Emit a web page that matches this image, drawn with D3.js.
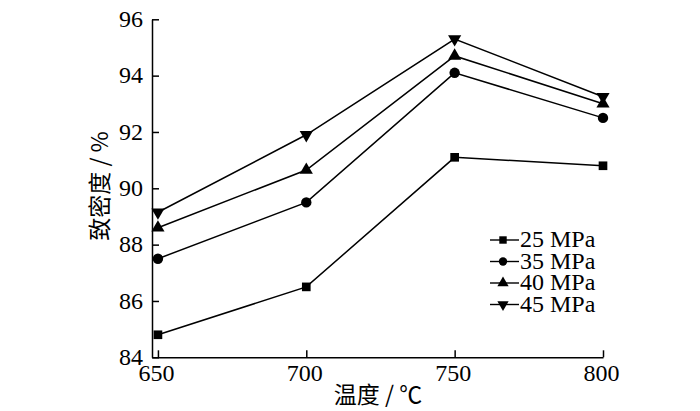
<!DOCTYPE html>
<html>
<head>
<meta charset="utf-8">
<script src="https://cdn.jsdelivr.net/npm/d3@7"></script>
<style>
  body { margin: 0; background: #fff; }
  text { font-family: "Liberation Serif", "Times New Roman", serif; fill: #000; }
</style>
</head>
<body>
<svg width="700" height="411"></svg>
<script>
// temperatures (x) and density per pressure
var temps = [650, 700, 750, 800];
var seriesNames = ["25 MPa", "35 MPa", "40 MPa", "45 MPa"];
var d25 = [84.8, 86.5, 91.1, 90.8];
var d35 = [87.5, 89.5, 94.1, 92.5];
var d40 = [88.6, 90.65, 94.7, 93.0];
var d45 = [89.15, 91.9, 95.3, 93.25];
var xTicks = [650, 700, 750, 800];
var yTicks = [84, 86, 88, 90, 92, 94, 96];

var allSeries = [d25, d35, d40, d45];
var symbols = [d3.symbolSquare, d3.symbolCircle, d3.symbolTriangle, d3.symbolTriangle];

var svg = d3.select("svg");

var x = d3.scaleLinear().domain([648, 800]).range([152, 603]);
var y = d3.scaleLinear().domain([84, 96]).range([357.3, 19.3]);

var g = svg.append("g");

// x axis, ticks point inward
var xAxis = d3.axisBottom(x).tickValues(xTicks).tickSizeInner(-7).tickSizeOuter(0).tickPadding(7);
var gx = g.append("g").attr("transform", "translate(0," + y(84) + ")").call(xAxis);
gx.selectAll("text").style("font-size", "24px").attr("dy", "0.71em").attr("dx", "-2");

// y axis
var yAxis = d3.axisLeft(y).tickValues(yTicks).tickSizeInner(-7).tickSizeOuter(0).tickPadding(9);
var gy = g.append("g").attr("transform", "translate(" + x(648) + ",0)").call(yAxis);
gy.selectAll("text").style("font-size", "24px").attr("dy", "0.3em");

g.selectAll(".domain, .tick line").attr("stroke", "#000").attr("stroke-width", 1.5);

//lines
var line = d3.line()
    .x(function (d, i) { return x(temps[i]); })
    .y(function (d) { return y(d); });

allSeries.forEach(function (s, k) {
    g.append("path")
        .attr("d", line(s))
        .attr("fill", "none")
        .attr("stroke", "#000")
        .attr("stroke-width", 1.5);

    g.selectAll(".m" + k)
        .data(s)
        .enter().append("path")
        .attr("d", d3.symbol().type(symbols[k]).size(k == 1 ? 85 : 75))
        .attr("transform", function (d, i) {
            var rot = k == 3 ? " rotate(180)" : "";
            return "translate(" + x(temps[i]) + "," + y(d) + ")" + rot;
        })
        .attr("fill", "#000");
});

// legend
var leg = g.append("g").attr("transform", "translate(490,240)");
seriesNames.forEach(function (name, k) {
    var row = leg.append("g").attr("transform", "translate(0," + (k * 21.5) + ")");
    row.append("line").attr("x1", 0).attr("x2", 29).attr("y1", 0).attr("y2", 0)
        .attr("stroke", "#000").attr("stroke-width", 1.4);
    row.append("path")
        .attr("d", d3.symbol().type(symbols[k]).size(55))
        .attr("transform", "translate(13,0)" + (k == 3 ? " rotate(180)" : ""))
        .attr("fill", "#000");
    row.append("text")
        .attr("x", 30).attr("y", 7)
        .style("font-size", "24px")
        .text(name);
});

// axis titles
svg.append("text")
    .attr("x", 378).attr("y", 403)
    .attr("text-anchor", "middle")
    .style("font-size", "23px")
    .style("font-family", "'Noto Sans CJK SC', serif")
    .text("温度 / ℃");

svg.append("text")
    .attr("transform", "translate(108,186) rotate(-90)")
    .attr("text-anchor", "middle")
    .style("font-size", "23px")
    .style("font-family", "'Noto Sans CJK SC', serif")
    .text("致密度 / %");
</script>
</body>
</html>
